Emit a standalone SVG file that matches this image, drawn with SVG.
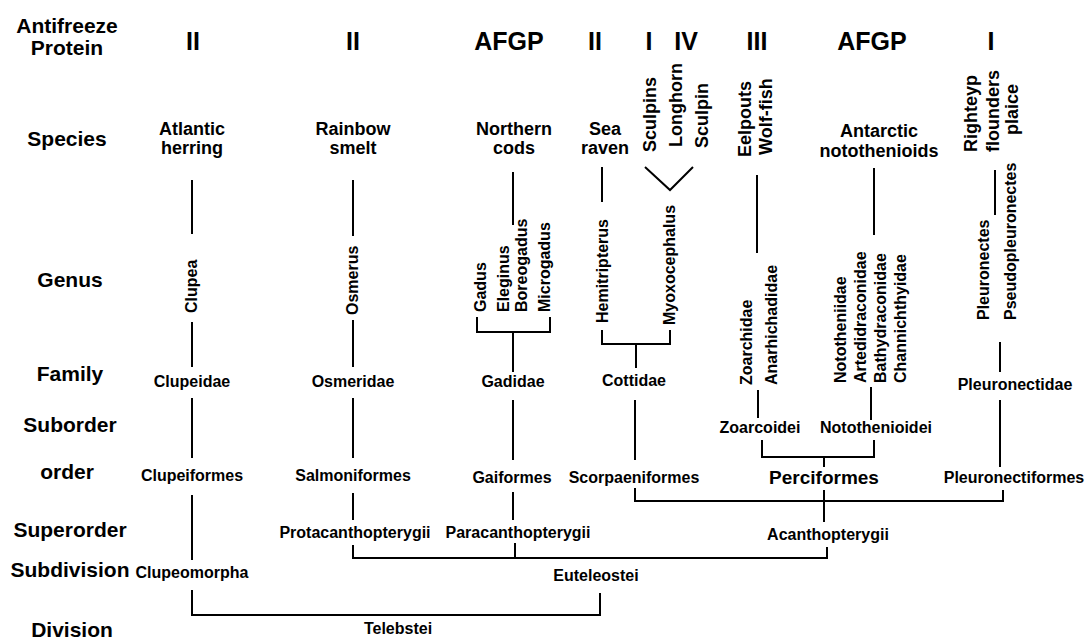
<svg xmlns="http://www.w3.org/2000/svg" width="1089" height="639" viewBox="0 0 1089 639">
<style>
text{font-family:"Liberation Sans",Arial,Helvetica,sans-serif;font-weight:bold;fill:#000}
.row{font-size:21px;text-anchor:middle}
.afp{font-size:25px;text-anchor:middle}
.sp{font-size:18px;text-anchor:middle}
.spv{font-size:18px;text-anchor:start}
.gv{font-size:16px;text-anchor:start}
.tx{font-size:16px;text-anchor:middle}
.big{font-size:19px;text-anchor:middle}
.ln{fill:none;stroke:#000;stroke-width:2}
</style>
<rect width="1089" height="639" fill="#fff"/>
<g id="row-labels">
<text class="row" x="67" y="33">Antifreeze</text>
<text class="row" x="67" y="55">Protein</text>
<text class="row" x="67" y="146">Species</text>
<text class="row" x="70" y="287">Genus</text>
<text class="row" x="70" y="381">Family</text>
<text class="row" x="70" y="432">Suborder</text>
<text class="row" x="67" y="479">order</text>
<text class="row" x="70" y="537">Superorder</text>
<text class="row" x="70" y="577">Subdivision</text>
<text class="row" x="72" y="637">Division</text>
</g>
<g id="antifreeze">
<text class="afp" x="193" y="50">II</text>
<text class="afp" x="353" y="50">II</text>
<text class="afp" x="509" y="50">AFGP</text>
<text class="afp" x="595" y="50">II</text>
<text class="afp" x="649" y="50">I</text>
<text class="afp" x="686" y="50">IV</text>
<text class="afp" x="757" y="50">III</text>
<text class="afp" x="872" y="50">AFGP</text>
<text class="afp" x="991" y="50">I</text>
</g>
<g id="species">
<text class="sp" x="192" y="135">Atlantic</text>
<text class="sp" x="192" y="154">herring</text>
<text class="sp" x="353" y="135">Rainbow</text>
<text class="sp" x="353" y="154">smelt</text>
<text class="sp" x="514" y="135">Northern</text>
<text class="sp" x="514" y="154">cods</text>
<text class="sp" x="605" y="135">Sea</text>
<text class="sp" x="605" y="154">raven</text>
<text class="sp" x="879" y="137">Antarctic</text>
<text class="sp" x="879" y="157">notothenioids</text>
<text class="spv" transform="translate(656,152) rotate(-90)">Sculpins</text>
<text class="spv" transform="translate(682,147) rotate(-90)">Longhorn</text>
<text class="spv" transform="translate(708,148) rotate(-90)">Sculpin</text>
<text class="spv" transform="translate(751,157) rotate(-90)">Eelpouts</text>
<text class="spv" transform="translate(772,155) rotate(-90)">Wolf-fish</text>
<text class="spv" transform="translate(977,152) rotate(-90)">Righteyp</text>
<text class="spv" transform="translate(999,152) rotate(-90)">flounders</text>
<text class="spv" transform="translate(1018,135) rotate(-90)">plaice</text>
</g>
<g id="genus">
<text class="gv" transform="translate(197,313) rotate(-90)">Clupea</text>
<text class="gv" transform="translate(358,315) rotate(-90)">Osmerus</text>
<text class="gv" transform="translate(486,312) rotate(-90)">Gadus</text>
<text class="gv" transform="translate(509,312) rotate(-90)">Eleginus</text>
<text class="gv" transform="translate(527,312) rotate(-90)">Boreogadus</text>
<text class="gv" transform="translate(550,312) rotate(-90)">Microgadus</text>
<text class="gv" transform="translate(608,323) rotate(-90)">Hemitripterus</text>
<text class="gv" transform="translate(675,325) rotate(-90)">Myoxocephalus</text>
<text class="gv" transform="translate(752,385) rotate(-90)">Zoarchidae</text>
<text class="gv" transform="translate(777,385) rotate(-90)">Anarhichadidae</text>
<text class="gv" transform="translate(846,383) rotate(-90)">Nototheniidae</text>
<text class="gv" transform="translate(866,383) rotate(-90)">Artedidraconidae</text>
<text class="gv" transform="translate(886,383) rotate(-90)">Bathydraconidae</text>
<text class="gv" transform="translate(906,383) rotate(-90)">Channichthyidae</text>
<text class="gv" transform="translate(989,320) rotate(-90)">Pleuronectes</text>
<text class="gv" transform="translate(1016,320) rotate(-90)">Pseudopleuronectes</text>
</g>
<g id="family">
<text class="tx" x="192" y="387">Clupeidae</text>
<text class="tx" x="353" y="387">Osmeridae</text>
<text class="tx" x="513" y="387">Gadidae</text>
<text class="tx" x="634" y="386">Cottidae</text>
<text class="tx" x="1015" y="390">Pleuronectidae</text>
</g>
<g id="suborder">
<text class="tx" x="760" y="433">Zoarcoidei</text>
<text class="tx" x="876" y="433">Notothenioidei</text>
</g>
<g id="order">
<text class="tx" x="192" y="481">Clupeiformes</text>
<text class="tx" x="353" y="481">Salmoniformes</text>
<text class="tx" x="512" y="483">Gaiformes</text>
<text class="tx" x="634" y="483">Scorpaeniformes</text>
<text class="big" x="824" y="484">Perciformes</text>
<text class="tx" x="1014" y="483">Pleuronectiformes</text>
</g>
<g id="superorder">
<text class="tx" x="355" y="538">Protacanthopterygii</text>
<text class="tx" x="518" y="538">Paracanthopterygii</text>
<text class="tx" x="828" y="540">Acanthopterygii</text>
</g>
<g id="subdivision">
<text class="tx" x="192" y="578">Clupeomorpha</text>
<text class="tx" x="596" y="581">Euteleostei</text>
</g>
<g id="division">
<text class="tx" x="398" y="634">Telebstei</text>
</g>
<g id="connectors" class="ln">
<path class="ln" d="M192 180V234M192 322V367M192 398V458M192 495V560M192 590V615H600V593"/>
<path class="ln" d="M353 180V236M353 320V367M353 398V458M353 493V520M353 545V558H827V547M515 543V558"/>
<path class="ln" d="M513 172V225M477 317V332H550V317M513 332V372M513 400V460M513 492V520"/>
<path class="ln" d="M602 167V202M645 167L670 190L693 167M602 330V344H670V330M636 344V368M635 400V460M635 488V501H1003V490"/>
<path class="ln" d="M757 175V253M758 390V418M762 440V457H874V440M824 457V467M824 490V522"/>
<path class="ln" d="M874 168V235M871 387V420"/>
<path class="ln" d="M995 170V215M1000 342V372M1000 400V467"/>
</g>
</svg>
